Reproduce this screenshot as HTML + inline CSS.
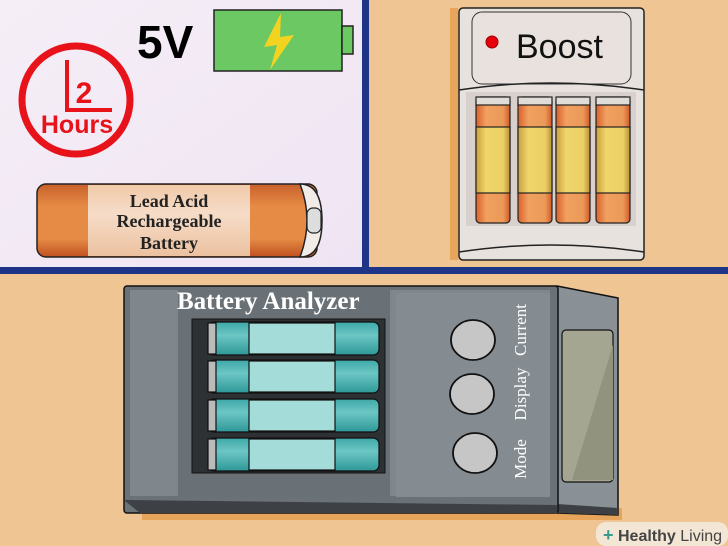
<!DOCTYPE html>
<html><head><style>body{margin:0}svg{display:block}</style></head><body>
<svg width="728" height="546" viewBox="0 0 728 546" xmlns="http://www.w3.org/2000/svg">
<defs>
<linearGradient id="lav" x1="0" y1="0" x2="1" y2="1"><stop offset="0" stop-color="#f5eef6"/><stop offset="1" stop-color="#efe4f3"/></linearGradient>
<linearGradient id="cyl" x1="0" y1="0" x2="0" y2="1"><stop offset="0" stop-color="#c8602a"/><stop offset="0.3" stop-color="#e58b45"/><stop offset="0.75" stop-color="#e58b45"/><stop offset="1" stop-color="#c05020"/></linearGradient>
<linearGradient id="lab" x1="0" y1="0" x2="0" y2="1"><stop offset="0" stop-color="#f0c9a8"/><stop offset="0.4" stop-color="#f6dcc8"/><stop offset="1" stop-color="#ecc2a0"/></linearGradient>
<linearGradient id="teal" x1="0" y1="0" x2="0" y2="1"><stop offset="0" stop-color="#3ea8a8"/><stop offset="0.4" stop-color="#6cc6c4"/><stop offset="1" stop-color="#2e9898"/></linearGradient>
<linearGradient id="yb" x1="0" y1="0" x2="1" y2="0"><stop offset="0" stop-color="#c9a040"/><stop offset="0.3" stop-color="#efd56a"/><stop offset="0.8" stop-color="#ecd066"/><stop offset="1" stop-color="#b89034"/></linearGradient>
<linearGradient id="ob" x1="0" y1="0" x2="1" y2="0"><stop offset="0" stop-color="#d8602a"/><stop offset="0.3" stop-color="#f0a060"/><stop offset="0.8" stop-color="#eb9a58"/><stop offset="1" stop-color="#d0582a"/></linearGradient>
</defs>
<rect width="728" height="546" fill="#eec593"/>
<rect width="364" height="270" fill="url(#lav)"/>
<rect x="362" y="0" width="7" height="272" fill="#1e3486"/>
<rect x="0" y="267" width="728" height="7" fill="#1e3486"/>

<text x="137" y="58" font-family="Liberation Sans,sans-serif" font-weight="bold" font-size="46" fill="#000">5V</text>
<rect x="214" y="10" width="128" height="61" fill="#6cc862" stroke="#222" stroke-width="1.5"/>
<rect x="342" y="26" width="11" height="28" fill="#6cc862" stroke="#222" stroke-width="1.5"/>
<polygon points="281,13 264,47 277,45 270,70 294,35 280,37" fill="#f2d320"/>

<circle cx="76" cy="100" r="54" fill="none" stroke="#e8121a" stroke-width="7"/>
<polyline points="67,60 67,110 112,110" fill="none" stroke="#e8121a" stroke-width="4"/>
<text x="84" y="103" font-family="Liberation Sans,sans-serif" font-weight="bold" font-size="30" fill="#e8121a" text-anchor="middle">2</text>
<text x="77" y="133" font-family="Liberation Sans,sans-serif" font-weight="bold" font-size="25" fill="#e8121a" text-anchor="middle">Hours</text>

<rect x="37" y="184" width="280" height="73" rx="9" fill="url(#cyl)" stroke="#222" stroke-width="1.5"/>
<rect x="88" y="185" width="162" height="71" fill="url(#lab)"/>
<path d="M300,184 q14,36 0,73 q22,0 22,-36 q0,-37 -22,-37z" fill="#f2ece8" stroke="#222" stroke-width="1.5"/>
<rect x="307" y="208" width="14" height="25" rx="6" fill="#ddd" stroke="#222" stroke-width="1.2"/>
<g font-family="Liberation Serif,serif" font-size="18" font-weight="bold" fill="#222" text-anchor="middle">
<text x="169" y="207">Lead Acid</text><text x="169" y="227">Rechargeable</text><text x="169" y="249">Battery</text></g>

<rect x="450" y="8" width="8" height="252" fill="#e6a55a"/>
<rect x="459" y="8" width="185" height="252" rx="4" fill="#e8e2de" stroke="#222" stroke-width="1.5"/>
<rect x="472" y="12" width="159" height="72" rx="10" fill="#e9e1dd" stroke="#333" stroke-width="1"/>
<path d="M459,90 q92,-14 185,0" fill="none" stroke="#222" stroke-width="1.5"/>
<rect x="466" y="92" width="170" height="134" fill="#d8d0cc"/>
<circle cx="492" cy="42" r="6" fill="#e8000c" stroke="#900" stroke-width="1"/>
<text x="516" y="58" font-family="Liberation Sans,sans-serif" font-size="34" fill="#111">Boost</text>
<g stroke="#222" stroke-width="1.2">
<g><rect x="476" y="97" width="34" height="126" rx="4" fill="url(#ob)"/><rect x="476" y="97" width="34" height="8" fill="#e0dcd8"/><rect x="476" y="127" width="34" height="66" fill="url(#yb)"/></g>
<g><rect x="518" y="97" width="34" height="126" rx="4" fill="url(#ob)"/><rect x="518" y="97" width="34" height="8" fill="#e0dcd8"/><rect x="518" y="127" width="34" height="66" fill="url(#yb)"/></g>
<g><rect x="556" y="97" width="34" height="126" rx="4" fill="url(#ob)"/><rect x="556" y="97" width="34" height="8" fill="#e0dcd8"/><rect x="556" y="127" width="34" height="66" fill="url(#yb)"/></g>
<g><rect x="596" y="97" width="34" height="126" rx="4" fill="url(#ob)"/><rect x="596" y="97" width="34" height="8" fill="#e0dcd8"/><rect x="596" y="127" width="34" height="66" fill="url(#yb)"/></g>
</g>
<path d="M459,252 q92,-14 185,0" fill="none" stroke="#222" stroke-width="1.5"/>

<rect x="142" y="508" width="480" height="12" fill="#e6a55a"/>
<polygon points="557,286 618,298 618,515 557,513" fill="#8a9196" stroke="#111" stroke-width="1.5"/>
<polygon points="557,504 618,508 618,515 557,513" fill="#3c4044"/>
<rect x="124" y="286" width="434" height="227" rx="3" fill="#6b7277" stroke="#111" stroke-width="1.5"/>
<polygon points="124,500 557,505 557,513 140,513" fill="#3d4145"/>
<rect x="130" y="290" width="420" height="206" fill="#80878c"/>
<rect x="178" y="290" width="212" height="207" fill="#6a7176"/>
<rect x="396" y="293" width="154" height="204" fill="#858c91"/>
<rect x="192" y="319" width="193" height="154" fill="#2e3134" stroke="#111"/>
<rect x="562" y="330" width="51" height="152" rx="4" fill="#a4a692" stroke="#111" stroke-width="1.2"/>
<polygon points="613,345 613,480 572,480" fill="#92937e"/>
<g stroke="#111" stroke-width="1.2">
<g><rect x="208" y="322" width="171" height="33" rx="6" fill="url(#teal)"/><rect x="208" y="323" width="8" height="31" fill="#bbb"/><rect x="249" y="323" width="86" height="31" fill="#a4dcda"/></g>
<g><rect x="208" y="360" width="171" height="33" rx="6" fill="url(#teal)"/><rect x="208" y="361" width="8" height="31" fill="#bbb"/><rect x="249" y="361" width="86" height="31" fill="#a4dcda"/></g>
<g><rect x="208" y="399" width="171" height="33" rx="6" fill="url(#teal)"/><rect x="208" y="400" width="8" height="31" fill="#bbb"/><rect x="249" y="400" width="86" height="31" fill="#a4dcda"/></g>
<g><rect x="208" y="438" width="171" height="33" rx="6" fill="url(#teal)"/><rect x="208" y="439" width="8" height="31" fill="#bbb"/><rect x="249" y="439" width="86" height="31" fill="#a4dcda"/></g>
</g>
<g fill="#c6c6c6" stroke="#111" stroke-width="1.8">
<ellipse cx="473" cy="340" rx="22" ry="20"/><ellipse cx="472" cy="394" rx="22" ry="20"/><ellipse cx="475" cy="453" rx="22" ry="20"/></g>
<text x="177" y="309" font-family="Liberation Serif,serif" font-weight="bold" font-size="25" fill="#fff">Battery Analyzer</text>
<g font-family="Liberation Serif,serif" font-size="17" fill="#fff" text-anchor="middle">
<text transform="translate(526,459) rotate(-90)">Mode</text>
<text transform="translate(526,394) rotate(-90)">Display</text>
<text transform="translate(526,330) rotate(-90)">Current</text></g>

<rect x="596" y="522" width="132" height="24" rx="10" fill="#f4e6d4"/>
<text x="603" y="541" font-family="Liberation Sans,sans-serif" font-weight="bold" font-size="18" fill="#3a9a8e">+</text>
<text x="618" y="541" font-family="Liberation Sans,sans-serif" font-size="16" fill="#444"><tspan font-weight="bold">Healthy</tspan> Living</text>
</svg>
</body></html>
